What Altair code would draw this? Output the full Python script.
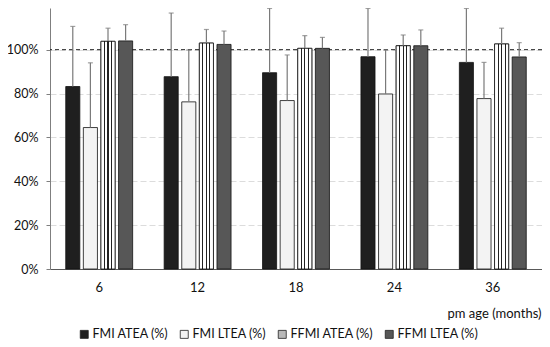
import altair as alt
import pandas as pd

ages = ["6", "12", "18", "24", "36"]
series = ["FMI ATEA (%)", "FMI LTEA (%)", "FFMI ATEA (%)", "FFMI LTEA (%)"]

fmi_atea = [83.2, 87.7, 89.5, 96.8, 94.2]
fmi_atea_top = [110.6, 116.7, 118.8, 118.8, 118.8]
fmi_ltea = [64.5, 76.2, 76.8, 79.8, 77.7]
fmi_ltea_top = [94.0, 99.9, 97.6, 99.9, 94.2]
ffmi_atea = [103.8, 103.0, 100.6, 101.8, 102.6]
ffmi_atea_top = [109.8, 109.2, 106.4, 106.7, 109.8]
ffmi_ltea = [104.0, 102.4, 100.6, 101.8, 96.7]
ffmi_ltea_top = [111.4, 108.5, 105.6, 109.0, 103.2]

y_ticks = [0, 20, 40, 60, 80, 100]

rows = []
for vals, tops, s in [(fmi_atea, fmi_atea_top, series[0]),
                      (fmi_ltea, fmi_ltea_top, series[1]),
                      (ffmi_atea, ffmi_atea_top, series[2]),
                      (ffmi_ltea, ffmi_ltea_top, series[3])]:
    for a, v, t in zip(ages, vals, tops):
        rows.append({"age": a, "series": s, "value": v, "top": t})
df = pd.DataFrame(rows)

FONT = "Lato"

x_enc = alt.X("age:N", sort=ages,
              scale=alt.Scale(paddingInner=0.32, paddingOuter=0.16),
              axis=alt.Axis(title="pm age (months)", labelAngle=0, tickSize=0,
                            labelPadding=12, labelFontSize=13, labelFont=FONT,
                            labelColor="#111", domainColor="#595959",
                            titleFont=FONT, titleFontSize=13, titleFontWeight="normal",
                            titleColor="#111", titleAnchor="end", titleAlign="right",
                            titleX=491, titleY=44, titleBaseline="middle"))
xoff_enc = alt.XOffset("series:N", sort=series,
                       scale=alt.Scale(domain=series, paddingInner=0.2, paddingOuter=0))
y_scale = alt.Scale(domain=[0, 119], nice=False)

base = alt.Chart(df)

grid = base.mark_bar(opacity=0).encode(
    x=x_enc,
    y=alt.Y("value:Q", scale=y_scale, title=None,
            axis=alt.Axis(values=y_ticks, labelExpr="datum.value + '%'",
                          grid=True, gridColor="#dcdcdc", gridDash=[6, 3],
                          tickSize=4, tickColor="#7f7f7f", domainColor="#7f7f7f",
                          labelPadding=8, labelFont=FONT, labelFontSize=12.5,
                          labelColor="#111")),
)

ref = alt.Chart(pd.DataFrame({"v": [100]})).mark_rule(
    strokeDash=[4, 3], color="#222", strokeWidth=1
).encode(y=alt.Y("v:Q", scale=y_scale))

bars = base.mark_bar(stroke="#111", strokeWidth=0.8).encode(
    x=x_enc,
    xOffset=xoff_enc,
    y=alt.Y("value:Q", scale=y_scale),
    color=alt.Color("series:N", sort=series,
                    scale=alt.Scale(domain=series,
                                    range=["#1f1f1f", "#f3f3f3", "#b8b8b8", "#575757"]),
                    legend=alt.Legend(title=None, orient="none", direction="horizontal",
                                      legendX=28, legendY=320, symbolType="square",
                                      symbolSize=64, symbolStrokeColor="#222",
                                      symbolStrokeWidth=0.8, labelFont=FONT,
                                      labelFontSize=12.5, labelColor="#111",
                                      labelOffset=2, columnPadding=9)),
)

stripe = alt.Gradient(
    gradient="linear", x1=0, x2=1, y1=0, y2=0,
    stops=[
        alt.GradientStop(offset=0.0, color="white"),
        alt.GradientStop(offset=0.21, color="white"),
        alt.GradientStop(offset=0.21, color="#222"),
        alt.GradientStop(offset=0.29, color="#222"),
        alt.GradientStop(offset=0.29, color="white"),
        alt.GradientStop(offset=0.46, color="white"),
        alt.GradientStop(offset=0.46, color="#222"),
        alt.GradientStop(offset=0.54, color="#222"),
        alt.GradientStop(offset=0.54, color="white"),
        alt.GradientStop(offset=0.71, color="white"),
        alt.GradientStop(offset=0.71, color="#222"),
        alt.GradientStop(offset=0.79, color="#222"),
        alt.GradientStop(offset=0.79, color="white"),
        alt.GradientStop(offset=1.0, color="white"),
    ],
)

stripes = base.transform_filter(alt.datum.series == series[2]).mark_bar(
    fill=stripe, stroke="#111", strokeWidth=0.8
).encode(x=x_enc, xOffset=xoff_enc, y=alt.Y("value:Q", scale=y_scale))

errs = base.mark_rule(color="#7a7a7a", strokeWidth=1.2).encode(
    x=x_enc, xOffset=xoff_enc,
    y=alt.Y("value:Q", scale=y_scale), y2="top:Q",
)
caps = base.mark_tick(color="#7a7a7a", size=5, thickness=1.2).encode(
    x=x_enc, xOffset=xoff_enc, y=alt.Y("top:Q", scale=y_scale),
)

chart = alt.layer(grid, ref, bars, stripes, errs, caps).properties(
    width=492, height=261,
    autosize=alt.AutoSizeParams(type="none"),
    padding={"left": 42, "top": 0, "right": 0, "bottom": 78},
).configure_view(stroke=None)

chart.save("out.html", embed_options={"renderer": "svg", "actions": False})
